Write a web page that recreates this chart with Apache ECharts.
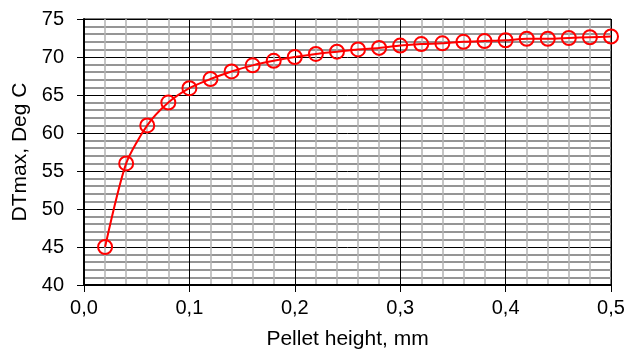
<!DOCTYPE html>
<html>
<head>
<meta charset="utf-8">
<script src="https://cdn.jsdelivr.net/npm/echarts@6/dist/echarts.min.js"></script>
<style>
html,body{margin:0;padding:0;background:#fff;}
#chart{width:628px;height:356px;}
</style>
</head>
<body>
<div id="chart"></div>
<script>
// Pellet height (mm) vs. peak temperature rise DTmax (Deg C)
const heights = [0.02,0.04,0.06,0.08,0.10,0.12,0.14,0.16,0.18,0.20,0.22,0.24,0.26,0.28,0.30,0.32,0.34,0.36,0.38,0.40,0.42,0.44,0.46,0.48,0.50];
const dtMax   = [45.0,56.0,61.0,64.0,65.9,67.1,68.1,68.9,69.5,70.0,70.4,70.7,71.0,71.2,71.5,71.7,71.8,72.0,72.1,72.2,72.4,72.4,72.5,72.6,72.7];
const xTitle = 'Pellet height, mm';
const yTitle = 'DTmax, Deg C';

const points = heights.map((h, i) => [h, dtMax[i]]);
const font = 'Liberation Sans, Arial, sans-serif';

const chart = echarts.init(document.getElementById('chart'), null, {renderer: 'canvas'});
chart.setOption({
  animation: false,
  backgroundColor: '#ffffff',
  grid: {left: 84, right: 17, top: 19, bottom: 71, show: true, borderColor: '#000', borderWidth: 1, backgroundColor: 'transparent'},
  xAxis: {
    type: 'value', min: 0, max: 0.5, interval: 0.1,
    name: xTitle, nameLocation: 'middle', nameGap: 44,
    nameTextStyle: {fontFamily: font, fontSize: 21, color: '#000'},
    axisLine: {lineStyle: {color: '#000', width: 2}},
    axisTick: {show: true, length: 7, lineStyle: {color: '#000'}},
    axisLabel: {fontFamily: font, fontSize: 20, color: '#000', margin: 13,
      formatter: v => v.toFixed(1).replace('.', ',')},
    splitLine: {show: true, lineStyle: {color: '#000', width: 1}},
    minorTick: {show: true, splitNumber: 5, length: 0},
    minorSplitLine: {show: true, lineStyle: {color: '#b4b4b4', width: 1.5}}
  },
  yAxis: {
    type: 'value', min: 40, max: 75, interval: 5,
    name: yTitle, nameLocation: 'middle', nameGap: 50, nameRotate: 90,
    nameTextStyle: {fontFamily: font, fontSize: 21, color: '#000'},
    axisLine: {show: true, lineStyle: {color: '#000', width: 2}},
    axisTick: {show: true, length: 7, lineStyle: {color: '#000'}},
    axisLabel: {fontFamily: font, fontSize: 20, color: '#000', margin: 20},
    splitLine: {show: true, lineStyle: {color: '#000', width: 1}},
    minorTick: {show: true, splitNumber: 5, length: 0},
    minorSplitLine: {show: true, lineStyle: {color: '#959595', width: 2}}
  },
  series: [{
    type: 'line',
    data: points,
    smooth: 0.25,
    symbol: 'circle',
    symbolSize: 14,
    itemStyle: {color: 'transparent', borderColor: '#ff0000', borderWidth: 2},
    lineStyle: {color: '#ff0000', width: 2},
    clip: false,
    z: 5
  }]
});
</script>
</body>
</html>
